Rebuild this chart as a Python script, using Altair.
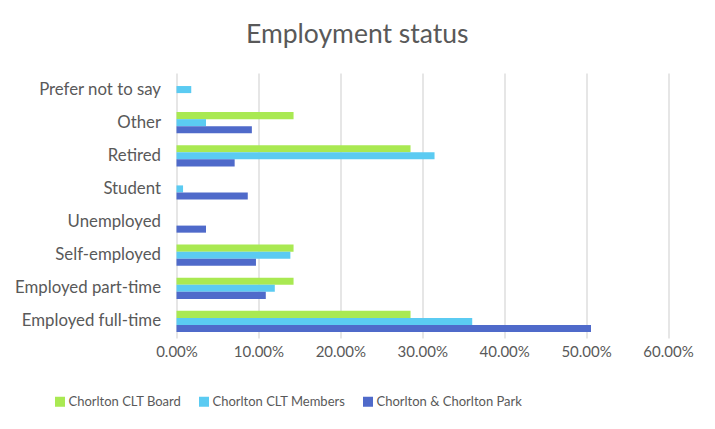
import altair as alt
import pandas as pd

categories = ["Prefer not to say", "Other", "Retired", "Student", "Unemployed",
              "Self-employed", "Employed part-time", "Employed full-time"]
series = ["Chorlton CLT Board", "Chorlton CLT Members", "Chorlton & Chorlton Park"]
board = [None, 0.1429, 0.2857, None, None, 0.1429, 0.1429, 0.2857]
members = [0.018, 0.036, 0.315, 0.008, None, 0.139, 0.120, 0.361]
park = [None, 0.092, 0.071, 0.087, 0.036, 0.097, 0.109, 0.506]
colors = ["#A9E952", "#5BCBF2", "#4F6ACA"]

rows = []
for vals, s in zip([board, members, park], series):
    for c, v in zip(categories, vals):
        if v is not None:
            rows.append({"category": c, "series": s, "value": v})
df = pd.DataFrame(rows)

FONT = "Lato"
GREY = "#595959"

chart = alt.Chart(df).mark_bar().encode(
    x=alt.X("value:Q",
            scale=alt.Scale(domain=[0, 0.6], nice=False),
            axis=alt.Axis(format=".2%", values=[0, 0.1, 0.2, 0.3, 0.4, 0.5, 0.6],
                          title=None, domain=False, ticks=False,
                          gridColor="#D9D9D9", gridWidth=1.3,
                          labelColor=GREY, labelFont=FONT, labelFontSize=15,
                          labelFlush=False, labelBound=False, labelOverlap=False,
                          labelPadding=6)),
    y=alt.Y("category:N", sort=categories,
            scale=alt.Scale(paddingInner=0.36, paddingOuter=0.18),
            axis=alt.Axis(title=None, domain=False, ticks=False,
                          labelColor=GREY, labelFont=FONT, labelFontSize=16.8,
                          labelLimit=300, labelPadding=16)),
    yOffset=alt.YOffset("series:N", sort=series,
                        scale=alt.Scale(paddingInner=0, paddingOuter=0)),
    color=alt.Color("series:N", sort=series,
                    scale=alt.Scale(domain=series, range=colors),
                    legend=alt.Legend(title=None, orient="none", direction="horizontal",
                                      legendX=-123, legendY=322,
                                      symbolType="square", symbolSize=100,
                                      symbolStrokeWidth=0,
                                      labelFont=FONT, labelFontSize=13,
                                      labelLimit=400,
                                      labelColor=GREY, columnPadding=16,
                                      labelOffset=2)),
).properties(
    width=491.5,
    height=265,
    title=alt.TitleParams("Employment status", font=FONT, fontSize=26.5,
                          fontWeight="normal", color=GREY, anchor="middle",
                          dx=-65, offset=25),
    autosize=alt.AutoSizeParams(type="none"),
    padding={"left": 168.5, "top": 65, "right": 30, "bottom": 70},
).configure_view(stroke=None)

chart.save("out.html", embed_options={"renderer": "svg", "actions": False})
